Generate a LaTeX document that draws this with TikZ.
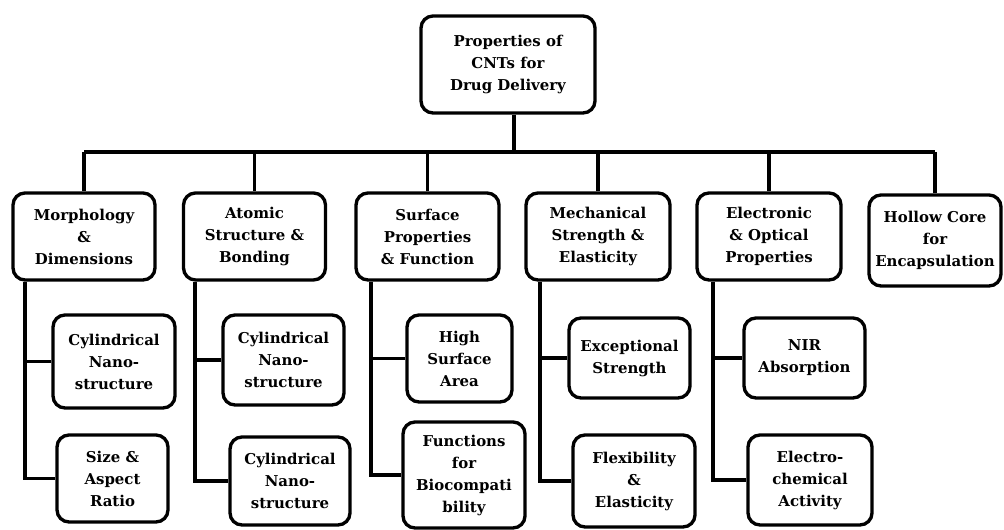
\documentclass[tikz,border=0pt]{standalone}
\usepackage{fontspec}
\setmainfont{DejaVu Serif}
\begin{document}
\begin{tikzpicture}[x=0.75pt,y=-0.75pt,
  lw/.style={line width=2.5pt},
  box/.style={draw,lw,rounded corners=9pt,align=center,inner sep=0pt,
    font=\bfseries\fontsize{11.2}{16.5}\selectfont},
  sz/.style 2 args={minimum width=#1*0.75pt,minimum height=#2*0.75pt},
  conn/.style={lw,line join=miter}]
\useasboundingbox (0,0) rectangle (1004,530);
% root
\node[box,sz={174}{97}] (root) at (508,64.5) {Properties of\\CNTs for\\Drug Delivery};
% level 1
\node[box,sz={142}{87}] (m1) at (84,236.5) {Morphology\\\&\\Dimensions};
\node[box,sz={142}{87}] (m2) at (254.5,236.5) {Atomic\\Structure \&\\Bonding};
\node[box,sz={143}{87}] (m3) at (427.5,236.5) {Surface\\Properties\\\& Function};
\node[box,sz={144}{87}] (m4) at (598,236.5) {Mechanical\\Strength \&\\Elasticity};
\node[box,sz={144}{87}] (m5) at (769,236.5) {Electronic\\\& Optical\\Properties};
\node[box,sz={132}{91}] (m6) at (935,240.5) {Hollow Core\\for\\Encapsulation};
% level 2
\node[box,sz={122}{93}] (c11) at (114,361.5) {Cylindrical\\Nano-\\structure};
\node[box,sz={111}{87}] (c12) at (112.5,478.5) {Size \&\\Aspect\\Ratio};
\node[box,sz={121}{90}] (c21) at (283.5,360) {Cylindrical\\Nano-\\structure};
\node[box,sz={120}{88}] (c22) at (290,481) {Cylindrical\\Nano-\\structure};
\node[box,sz={105}{87}] (c31) at (459.5,358.5) {High\\Surface\\Area};
\node[box,sz={122}{106}] (c32) at (464,475) {Functions\\for\\Biocompati\\bility};
\node[box,sz={121}{80}] (c41) at (629.5,358) {Exceptional\\Strength};
\node[box,sz={122}{92}] (c42) at (634,481) {Flexibility\\\&\\Elasticity};
\node[box,sz={121}{80}] (c51) at (804.5,358) {NIR\\Absorption};
\node[box,sz={124}{90}] (c52) at (810,480) {Electro-\\chemical\\Activity};
% bar
\coordinate (bar) at (0,152);
\draw[conn] ([xshift=4.5pt]root.south) -- ([xshift=4.5pt]root.south |- bar);
\draw[conn] (m1.north |- bar) -- (m6.north |- bar);
\foreach \m in {m1,m2,m3,m4,m5,m6}{\draw[conn] (\m.north) -- (\m.north |- bar);}
% trunks
\coordinate (t1) at (25,0);
\coordinate (t2) at (195,0);
\coordinate (t3) at (371,0);
\coordinate (t4) at (540,0);
\coordinate (t5) at (713,0);
\foreach \i in {1,...,5}{
  \draw[conn] (m\i.south -| t\i) |- (c\i2.west);
  \draw[conn] (c\i1.west) -- (c\i1.west -| t\i);
}
\end{tikzpicture}
\end{document}
